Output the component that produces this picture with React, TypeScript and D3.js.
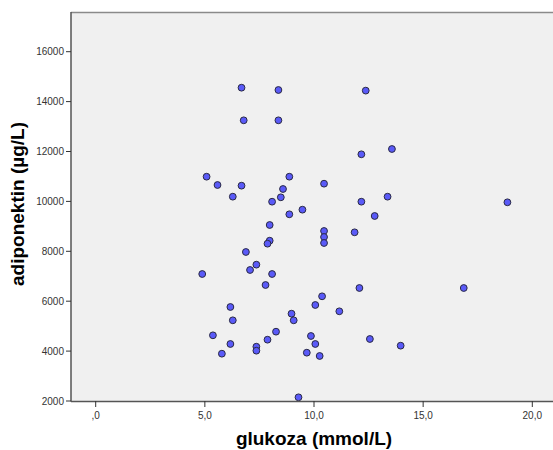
import React from "react";
import * as d3 from "d3";

const glukoza = [
  6.68, 8.37, 12.37, 6.78, 8.37, 13.57, 12.17, 5.08, 8.87, 5.58,
  6.68, 10.46, 8.58, 6.28, 8.48, 13.37, 8.08, 12.17, 9.47, 8.87,
  12.78, 11.86, 18.86, 12.08, 16.86, 12.56, 13.97, 7.97, 10.46, 10.46,
  10.46, 7.97, 7.87, 6.88, 7.36, 7.07, 4.88, 8.08, 7.78, 10.37,
  10.06, 6.17, 11.16, 8.97, 6.28, 9.07, 8.26, 5.37, 9.86, 7.87,
  6.17, 10.06, 7.36, 7.36, 5.78, 9.67, 10.26, 9.29,
];
const adiponektin = [
  14557, 14465, 14440, 13250, 13250, 12100, 11888, 10990, 10990, 10657,
  10630, 10710, 10497, 10189, 10164, 10189, 9988, 9988, 9668, 9483,
  9415, 8761, 9964, 6529, 6529, 4485, 4217, 9054, 8814, 8573,
  8333, 8425, 8305, 7972, 7464, 7251, 7090, 7090, 6649, 6196,
  5848, 5768, 5595, 5499, 5234, 5234, 4778, 4633, 4605, 4457,
  4285, 4285, 4176, 4016, 3896, 3936, 3804, 2148,
];
const xTicks = [0, 5, 10, 15, 20];
const yTicks = [2000, 4000, 6000, 8000, 10000, 12000, 14000, 16000];
const xTitle = "glukoza (mmol/L)";
const yTitle = "adiponektin (µg/L)";

const W = 553;
const H = 450;
const left = 71;
const right = 553;
const top = 12;
const bottom = 401;

const fmtX = (d: number) => (d === 0 ? ",0" : d.toFixed(1).replace(".", ","));

export default function App() {
  const x = d3.scaleLinear().domain([0, 20]).range([95.7, 532.3]);
  const y = d3.scaleLinear().domain([2000, 16000]).range([401, 51.7]);
  const font = "'Liberation Sans', Arial, sans-serif";
  return (
    <svg
      width={W}
      height={H}
      style={{ position: "absolute", left: 0, top: 0, background: "#fff" }}
      fontFamily={font}
    >
      <rect x={left} y={top} width={right - left} height={bottom - top} fill="#f0f0f0" />
      <line x1={left} x2={right} y1={top + 0.5} y2={top + 0.5} stroke="#8a8a8a" strokeWidth={1.5} />
      {glukoza.map((g, i) => (
        <circle
          key={i}
          cx={x(g)}
          cy={y(adiponektin[i])}
          r={3.4}
          fill="#5a5af8"
          stroke="#2a2a44"
          strokeWidth={1}
        />
      ))}
      <line x1={left} x2={left} y1={top} y2={bottom + 0.5} stroke="#555" strokeWidth={1.5} />
      <line x1={left} x2={right} y1={bottom + 0.5} y2={bottom + 0.5} stroke="#555" strokeWidth={1.5} />
      {yTicks.map((t) => (
        <g key={t}>
          <line x1={left - 5} x2={left} y1={y(t)} y2={y(t)} stroke="#333" strokeWidth={1} />
          <text
            x={left - 7}
            y={y(t)}
            textAnchor="end"
            dominantBaseline="central"
            fontSize={10}
            fill="#333"
          >
            {t}
          </text>
        </g>
      ))}
      {xTicks.map((t) => (
        <g key={t}>
          <line x1={x(t)} x2={x(t)} y1={bottom} y2={bottom + 6} stroke="#333" strokeWidth={1} />
          <text x={x(t)} y={bottom + 18} textAnchor="middle" fontSize={10} fill="#333">
            {fmtX(t)}
          </text>
        </g>
      ))}
      <text
        x={314}
        y={445}
        textAnchor="middle"
        fontSize={19}
        fontWeight="bold"
        fill="#000"
      >
        {xTitle}
      </text>
      <text
        transform={`translate(24,204) rotate(-90)`}
        textAnchor="middle"
        fontSize={19}
        fontWeight="bold"
        fill="#000"
      >
        {yTitle}
      </text>
    </svg>
  );
}
